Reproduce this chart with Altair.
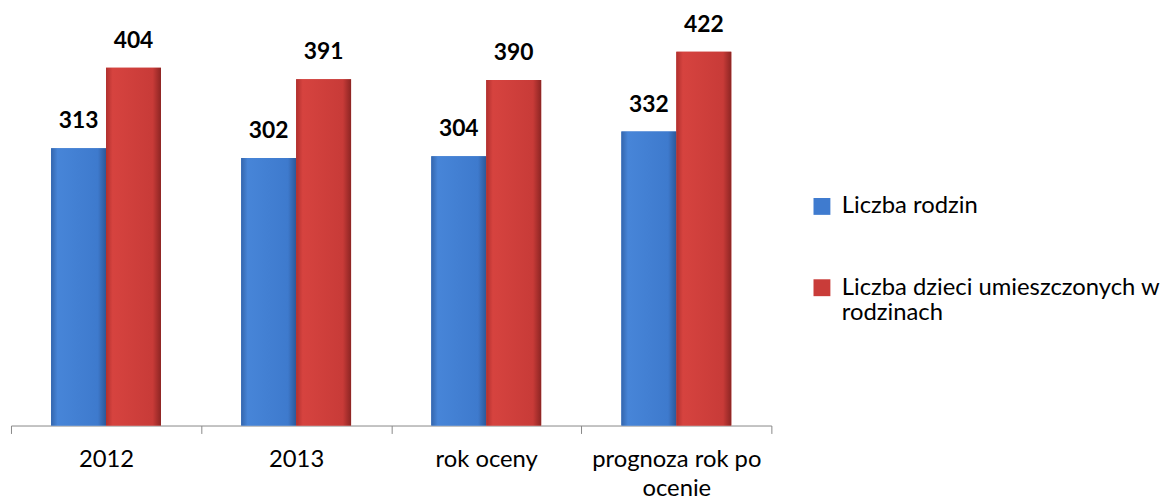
import altair as alt
import pandas as pd

categories = ["2012", "2013", "rok oceny", "prognoza rok po ocenie"]
series = ["Liczba rodzin", "Liczba dzieci umieszczonych w rodzinach"]
rodziny = [313, 302, 304, 332]
dzieci = [404, 391, 390, 422]
colors = ["#3f7bcf", "#c93c39"]

rows = []
for c, a, b in zip(categories, rodziny, dzieci):
    rows.append({"kat": c, "seria": series[0], "v": a})
    rows.append({"kat": c, "seria": series[1], "v": b})
df = pd.DataFrame(rows)

FONT = "Lato"

x = alt.X("kat:N", sort=categories, title=None,
          scale=alt.Scale(paddingInner=0, paddingOuter=0),
          axis=alt.Axis(labelAngle=0, tickBand="extent", domainColor="#888888",
                        tickColor="#888888", tickSize=8, labelFontSize=24,
                        labelFont=FONT, labelColor="#000000", labelPadding=14,
                        labelLimit=400, labelLineHeight=30,
                        labelExpr="datum.label == 'prognoza rok po ocenie' ? ['prognoza rok po', 'ocenie'] : datum.label"))
xo = alt.XOffset("seria:N", sort=series, scale=alt.Scale(paddingInner=0, paddingOuter=0.73))
y = alt.Y("v:Q", scale=alt.Scale(domain=[0, 469], nice=False), axis=None)

bars = alt.Chart(df).mark_bar().encode(
    x=x, xOffset=xo, y=y,
    color=alt.Color("seria:N", sort=series,
                    scale=alt.Scale(domain=series, range=colors),
                    legend=alt.Legend(title=None, orient="none", legendX=806, legendY=186,
                                      symbolType="square", symbolSize=290,
                                      labelFont=FONT, labelFontSize=24, labelColor="#000000",
                                      labelLimit=500, rowPadding=58,
                                      labelBaseline="middle", labelOffset=8,
                                      labelExpr="datum.label == 'Liczba dzieci umieszczonych w rodzinach' ? ['Liczba dzieci umieszczonych w', 'rodzinach'] : datum.label"))
)

def grad(c_edge_l, c_mid1, c_mid2, c_edge_r):
    return alt.Gradient(gradient="linear", x1=0, x2=1, y1=0, y2=0,
                        stops=[alt.GradientStop(color=c_edge_l, offset=0),
                               alt.GradientStop(color=c_mid1, offset=0.12),
                               alt.GradientStop(color=c_mid2, offset=0.85),
                               alt.GradientStop(color=c_edge_r, offset=1)])

blue_layer = alt.Chart(df).transform_filter(alt.datum.seria == series[0]).mark_bar(
    color=grad("#3466ad", "#4785d8", "#3e7acd", "#2c5898")).encode(x=x, xOffset=xo, y=y)
red_layer = alt.Chart(df).transform_filter(alt.datum.seria == series[1]).mark_bar(
    color=grad("#b0302e", "#d6433f", "#c83b38", "#8c2523")).encode(x=x, xOffset=xo, y=y)

labels = alt.Chart(df).mark_text(baseline="bottom", dy=-15, fontSize=23, fontWeight="bold",
                                 font=FONT, color="#000000").encode(
    x=x, xOffset=xo, y=y, text="v:Q"
)

chart = alt.layer(bars, blue_layer, red_layer, labels).properties(
    width=767, height=419,
    padding={"left": 2, "top": 0, "right": 0, "bottom": 0},
).configure_view(stroke=None).configure_axisX(grid=False)

chart.save("out.html", embed_options={"renderer": "svg", "actions": False})
